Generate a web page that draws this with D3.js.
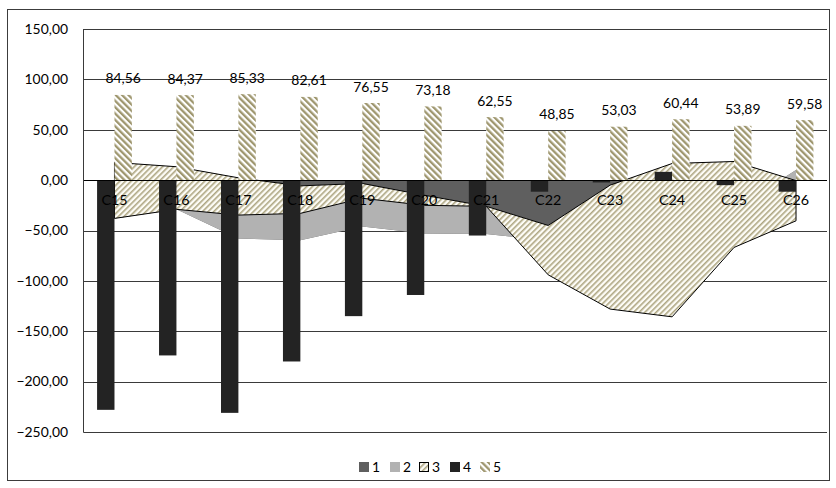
<!DOCTYPE html>
<html>
<head>
<meta charset="utf-8">
<script src="https://cdn.jsdelivr.net/npm/d3@7"></script>
<style>
  body { margin: 0; background: #fff; }
  svg { display: block; }
  text { font-family: Lato, "Open Sans", "Noto Sans", sans-serif; fill: #000; }
</style>
</head>
<body>
<svg id="chart" width="836" height="488"></svg>
<script>
// Categories on the x axis
const categories = ["C15", "C16", "C17", "C18", "C19", "C20", "C21", "C22", "C23", "C24", "C25", "C26"];

// Stacked area series (cumulative, drawn 1 -> 3)
const series1 = [-38, -29, -58, -59.6, -46, -53, -53.5, -60, -40, -40, -29, 10];
const series2 = [55.6, 42.3, 60.3, 53.9, 42.7, 38, 27.5, 15, 35, 56.5, 47.5, -10.5];
const series3 = [-55.6, -42.3, -37, -27.3, -14.7, -10, 0, -49, -123, -152.2, -85.3, -39.9];

// Clustered bar series
const series4 = [-228, -174, -231, -180, -135, -114, -55, -11.5, -2.3, 8.2, -5, -11.5];
const series5 = [84.56, 84.37, 85.33, 82.61, 76.55, 73.18, 62.55, 48.85, 53.03, 60.44, 53.89, 59.58];

// Value axis ticks and legend entries
const yTicks = [150, 100, 50, 0, -50, -100, -150, -200, -250];
const legendLabels = ["1", "2", "3", "4", "5"];

const plot = { left: 83.5, right: 827, top: 29, bottom: 432 };
const fontSize = 13.9;

const svg = d3.select("#chart");
const fmt = d3.formatLocale({ decimal: ",", thousands: ".", grouping: [3], currency: ["", ""] }).format(".2f");

// Fill patterns
const defs = svg.append("defs");
const pArea = defs.append("pattern")
  .attr("id", "hatchArea").attr("patternUnits", "userSpaceOnUse")
  .attr("width", 4).attr("height", 4)
  .attr("patternTransform", "rotate(45)");
pArea.append("rect").attr("width", 4).attr("height", 4).attr("fill", "#fdfcf6");
pArea.append("rect").attr("width", 1.6).attr("height", 4).attr("fill", "#aea682");

const pBar = defs.append("pattern")
  .attr("id", "hatchBar").attr("patternUnits", "userSpaceOnUse")
  .attr("width", 4.5).attr("height", 4.5)
  .attr("patternTransform", "rotate(-45)");
pBar.append("rect").attr("width", 4.5).attr("height", 4.5).attr("fill", "#ffffff");
pBar.append("rect").attr("width", 2.3).attr("height", 4.5).attr("fill", "#9f976f");

// Outer chart frame
svg.append("rect")
  .attr("x", 7.5).attr("y", 9.5).attr("width", 822).attr("height", 471)
  .attr("fill", "#fff").attr("stroke", "#3c3c3c").attr("stroke-width", 1);

// Scales
const x = d3.scaleBand().domain(categories).range([plot.left, plot.right]).padding(0);
const y = d3.scaleLinear().domain([-250, 150]).range([plot.bottom, plot.top]);
const cx = c => x(c) + x.bandwidth() / 2;
const barW = 17.4;

// Gridlines
svg.append("g").selectAll("line").data(yTicks).join("line")
  .attr("x1", plot.left).attr("x2", plot.right)
  .attr("y1", d => Math.round(y(d)) + 0.5).attr("y2", d => Math.round(y(d)) + 0.5)
  .attr("stroke", "#3a3a3a").attr("stroke-width", 1);

// Tick labels
svg.append("g").selectAll("text").data(yTicks).join("text")
  .attr("x", 68).attr("y", d => y(d)).attr("dy", "0.35em")
  .attr("text-anchor", "end").attr("font-size", fontSize)
  .text(d => fmt(d));

// Stacked areas
const rows = categories.map((c, i) => ({ cat: c, s1: series1[i], s2: series2[i], s3: series3[i] }));
const stacked = d3.stack().keys(["s1", "s2", "s3"]).offset(d3.stackOffsetNone)(rows);
const area = d3.area()
  .x(d => cx(d.data.cat))
  .y0(d => y(d[0]))
  .y1(d => y(d[1]));
const areaStyles = [
  { fill: "#5f5f5f", stroke: "none" },
  { fill: "#b2b2b2", stroke: "none" },
  { fill: "url(#hatchArea)", stroke: "#000" }
];
svg.append("g").selectAll("path").data(stacked).join("path")
  .attr("d", area)
  .attr("fill", (d, i) => areaStyles[i].fill)
  .attr("stroke", (d, i) => areaStyles[i].stroke)
  .attr("stroke-width", 1)
  .attr("stroke-linejoin", "miter");

// Bars: series 4 (solid) left of the category centre, series 5 (hatched) right
svg.append("g").selectAll("rect").data(series4).join("rect")
  .attr("x", (d, i) => cx(categories[i]) - barW)
  .attr("width", barW)
  .attr("y", d => y(Math.max(0, d)))
  .attr("height", d => Math.abs(y(d) - y(0)))
  .attr("fill", "#232323");

svg.append("g").selectAll("rect").data(series5).join("rect")
  .attr("x", (d, i) => cx(categories[i]))
  .attr("width", barW)
  .attr("y", d => y(Math.max(0, d)))
  .attr("height", d => Math.abs(y(d) - y(0)))
  .attr("fill", "url(#hatchBar)");

// Zero line and value axis line
svg.append("line")
  .attr("x1", plot.left).attr("x2", plot.right)
  .attr("y1", Math.round(y(0)) + 0.5).attr("y2", Math.round(y(0)) + 0.5)
  .attr("stroke", "#000").attr("stroke-width", 1);
svg.append("line")
  .attr("x1", plot.left).attr("x2", plot.left)
  .attr("y1", plot.top).attr("y2", plot.bottom + 0.5)
  .attr("stroke", "#3a3a3a").attr("stroke-width", 1);

// Data labels on series 5
svg.append("g").selectAll("text").data(series5).join("text")
  .attr("x", (d, i) => cx(categories[i]) + barW / 2)
  .attr("y", d => y(d) - 11.5)
  .attr("text-anchor", "middle").attr("font-size", fontSize)
  .text(d => fmt(d));

// Category labels next to the zero line
svg.append("g").selectAll("text").data(categories).join("text")
  .attr("x", d => cx(d)).attr("y", y(0) + 20)
  .attr("dy", "0.35em")
  .attr("text-anchor", "middle").attr("font-size", fontSize + 0.4)
  .text(d => d);

// Legend
const legendX = [359, 390, 419, 450, 480];
const legendFills = ["#5f5f5f", "#b2b2b2", "url(#hatchArea)", "#232323", "url(#hatchBar)"];
const legendStrokes = ["none", "none", "#000", "none", "none"];
const lg = svg.append("g").selectAll("g").data(legendLabels).join("g")
  .attr("transform", (d, i) => `translate(${legendX[i]},462)`);
lg.append("rect")
  .attr("x", (d, i) => legendStrokes[i] === "none" ? 0 : 0.5)
  .attr("y", (d, i) => legendStrokes[i] === "none" ? 0 : 0.5)
  .attr("width", (d, i) => legendStrokes[i] === "none" ? 10 : 9)
  .attr("height", (d, i) => legendStrokes[i] === "none" ? 10 : 9)
  .attr("fill", (d, i) => legendFills[i])
  .attr("stroke", (d, i) => legendStrokes[i]);
lg.append("text")
  .attr("x", 13).attr("y", 5).attr("dy", "0.35em")
  .attr("font-size", fontSize)
  .text(d => d);
</script>
</body>
</html>
